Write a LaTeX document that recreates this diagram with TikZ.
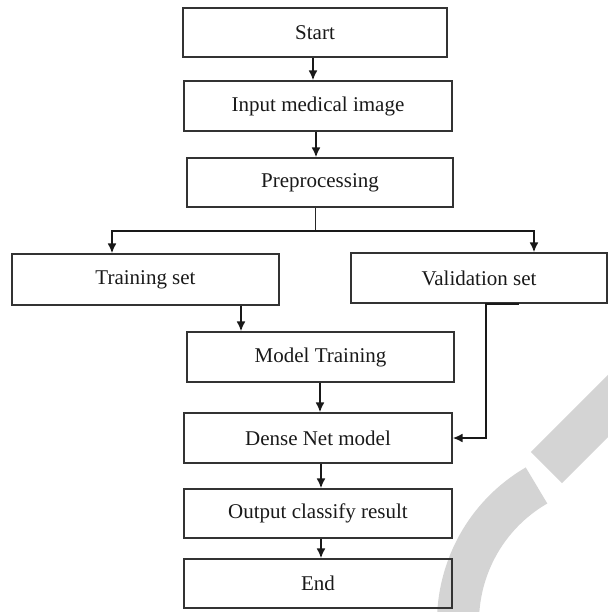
\documentclass[tikz,border=0pt]{standalone}
\usepackage{fontspec}
\setmainfont{Liberation Serif}
\usetikzlibrary{arrows.meta}
\begin{document}
\begin{tikzpicture}[x=0.5pt,y=-0.5pt,
 box/.style={draw=black!80, line width=0.6pt, inner sep=0pt, font=\fontsize{10.5}{12}\selectfont, text=black!90},
 arr/.style={draw=black!90, line width=1pt, -{Latex[length=5pt,width=4.5pt]}},
 thinline/.style={draw=black!85, line width=0.5pt},
 wm/.style={draw=black!17, line width=21pt}]
\useasboundingbox (0,0) rectangle (608,612);
\begin{scope}
\clip (0,0) rectangle (608,612);
\draw[wm] (616,622) ++(239.8:158) arc[start angle=239.8,end angle=150,radius=158];
\draw[wm, line width=22pt] (546.5,467.5) -- (746.5,267.5);
\end{scope}
\node[box, minimum width=132pt, minimum height=24.5pt] (start) at (315,32.5) {Start};
\node[box, minimum width=134pt, minimum height=25pt] (input) at (318,106) {Input medical image};
\node[box, minimum width=133pt, minimum height=24.5pt] (prep) at (320,182.5) {Preprocessing};
\node[box, minimum width=133.5pt, minimum height=25.5pt] (train) at (145.5,279.5) {Training set};
\node[box, minimum width=128pt, minimum height=25pt] (val) at (479,278) {Validation set};
\node[box, minimum width=133.5pt, minimum height=25pt] (model) at (320.5,357) {Model Training};
\node[box, minimum width=134pt, minimum height=25pt] (dense) at (318,438) {Dense Net model};
\node[box, minimum width=134pt, minimum height=24.5pt] (out) at (318,513.5) {Output classify result};
\node[box, minimum width=134pt, minimum height=24.5pt] (end) at (318,583.5) {End};
\coordinate (split) at (315,231);
\coordinate (tl) at (112,231);
\coordinate (tr) at (534,231);
\coordinate (tx) at (241,0);
\coordinate (v1) at (519,0);
\coordinate (v2) at (486,0);
\coordinate (dx) at (321,0);
\draw[arr] (313,0 |- start.south) -- (313,0 |- input.north);
\draw[arr] (316,0 |- input.south) -- (316,0 |- prep.north);
\draw[thinline] (split |- prep.south) -- (split);
\draw[arr] (split) -- (tl) -- (tl |- train.north);
\draw[arr] (split) -- (tr) -- (tr |- val.north);
\draw[arr] (tx |- train.south) -- (tx |- model.north);
\draw[arr] (320,0 |- model.south) -- (320,0 |- dense.north);
\draw[arr] (v1 |- val.south) -- (v2 |- val.south) |- (dense.east);
\draw[arr] (dx |- dense.south) -- (dx |- out.north);
\draw[arr] (dx |- out.south) -- (dx |- end.north);
\end{tikzpicture}
\end{document}
